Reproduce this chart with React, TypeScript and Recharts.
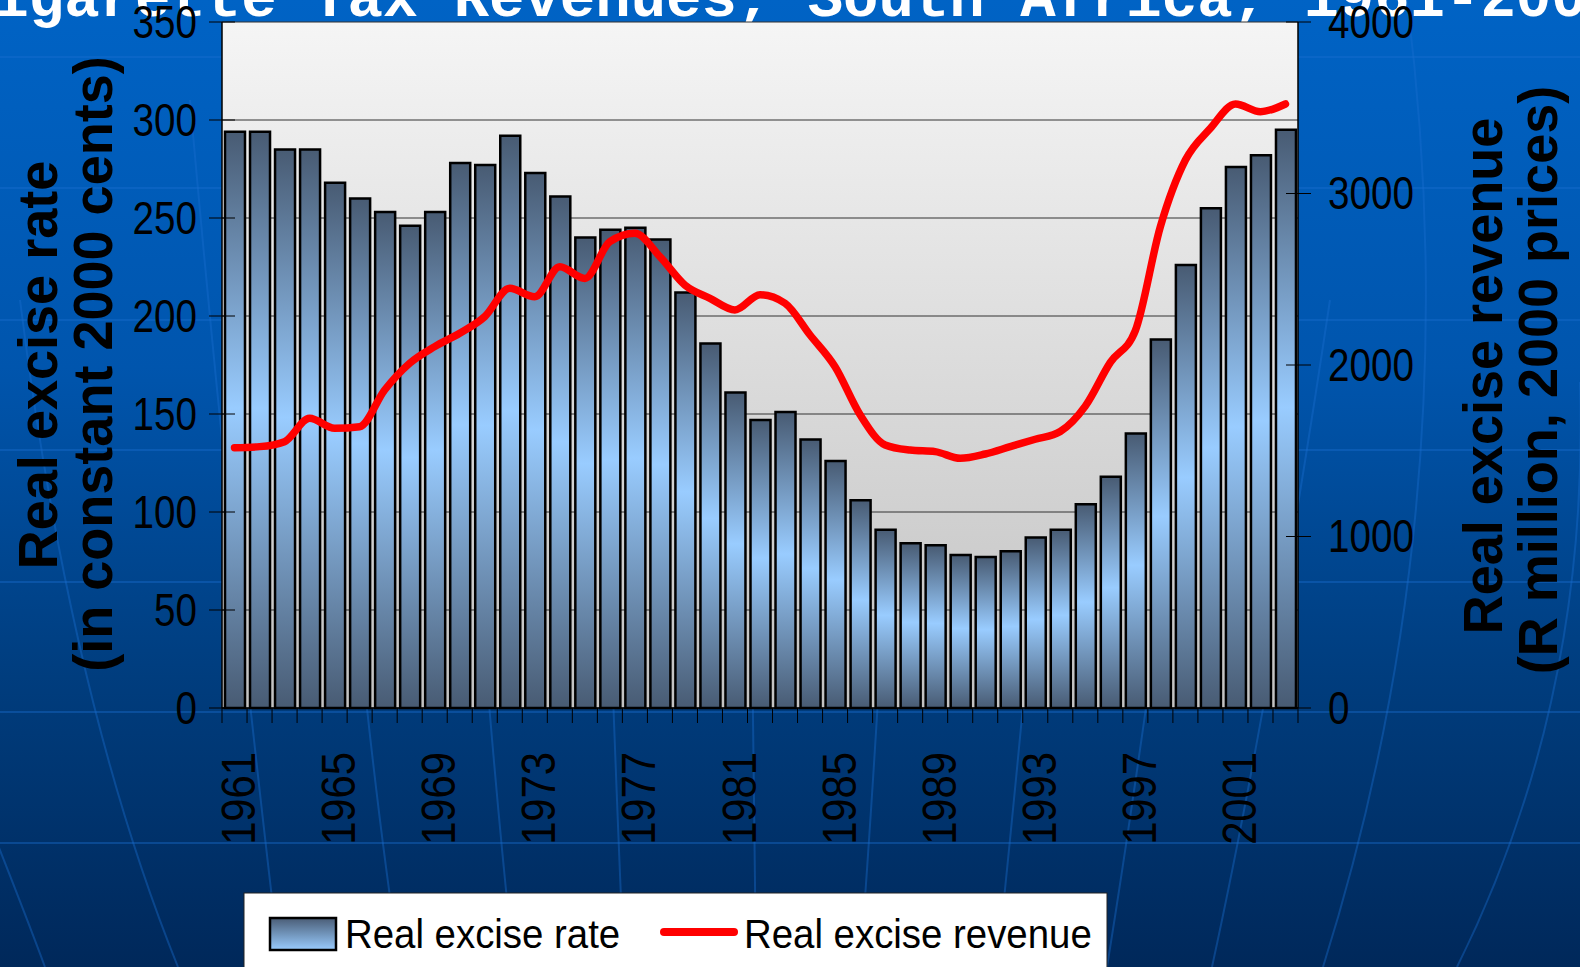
import { Bar, CartesianGrid, ComposedChart, Line, XAxis, YAxis } from "recharts"

const years = [
  1961, 1962, 1963, 1964, 1965, 1966, 1967, 1968, 1969, 1970, 1971, 1972, 1973, 1974, 1975,
  1976, 1977, 1978, 1979, 1980, 1981, 1982, 1983, 1984, 1985, 1986, 1987, 1988, 1989, 1990,
  1991, 1992, 1993, 1994, 1995, 1996, 1997, 1998, 1999, 2000, 2001, 2002, 2003,
]

// real excise rate, constant 2000 cents
const exciseRate = [
  294, 294, 285, 285, 268, 260, 253, 246, 253, 278, 277, 292, 273, 261, 240,
  244, 245, 239, 212, 186, 161, 147, 151, 137, 126, 106, 91, 84, 83, 78,
  77, 80, 87, 91, 104, 118, 140, 188, 226, 255, 276, 282, 295,
]

// real excise revenue, R million (2000 prices)
const exciseRevenue = [
  1518, 1524, 1553, 1689, 1631, 1640, 1854, 2010, 2107, 2185, 2282, 2447, 2398, 2573, 2505,
  2719, 2768, 2632, 2466, 2389, 2321, 2410, 2360, 2175, 1990, 1710, 1534, 1504, 1495, 1456,
  1481, 1524, 1567, 1612, 1760, 2015, 2200, 2807, 3195, 3380, 3522, 3477, 3522,
]

const rateTicks = [0, 50, 100, 150, 200, 250, 300, 350]
const revenueTicks = [0, 1000, 2000, 3000, 4000]

const data = years.map((year, i) => ({
  year,
  rate: exciseRate[i],
  revenue: exciseRevenue[i],
}))

const SANS = "'Liberation Sans', Arial, Helvetica, sans-serif"
const W = 1580
const H = 967

// faint globe lines in the slide background
const globeLines = [
  "M 0 57 L 1580 57",
  "M 0 188 L 1580 188",
  "M 0 320 L 1580 320",
  "M 0 450 L 1580 450",
  "M 0 582 L 1580 582",
  "M 0 712 L 1580 712",
  "M 0 843 L 1580 843",
  "M 20 300 Q 70 700 178 967",
  "M -20 800 Q 20 900 45 967",
  "M 190 100 Q 225 500 280 967",
  "M 330 300 Q 360 700 400 967",
  "M 460 300 Q 485 700 514 967",
  "M 600 300 Q 612 700 624 967",
  "M 748 300 Q 752 700 756 967",
  "M 900 300 Q 880 700 860 967",
  "M 1060 300 Q 1025 700 997 967",
  "M 1200 300 Q 1150 700 1107 967",
  "M 1330 300 Q 1270 700 1212 967",
  "M 1407 0 Q 1470 500 1323 967",
  "M 1580 382 Q 1590 700 1457 967",
]

function YearTick(props: any) {
  const { x, y, index, payload } = props
  const half = 12.5
  return (
    <g>
      <line x1={x - half} y1={y} x2={x - half} y2={y + 15} stroke="#000" strokeWidth={1} />
      {index === years.length - 1 && (
        <line x1={x + half} y1={y} x2={x + half} y2={y + 15} stroke="#000" strokeWidth={1} />
      )}
      {index % 4 === 0 && (
        <text
          transform={`translate(${x + 4},${y + 44}) rotate(-90) scale(0.87,1)`}
          textAnchor="end"
          dominantBaseline="central"
          fontSize={48}
          fontFamily={SANS}
          fill="#000"
        >
          {payload.value}
        </text>
      )}
    </g>
  )
}

function LeftTick(props: any) {
  const { x, y, payload } = props
  return (
    <g>
      <line x1={x - 13} y1={y} x2={x + 13} y2={y} stroke="#000" strokeWidth={1} />
      <text
        transform={`translate(${x - 25},${y}) scale(0.84,1)`}
        textAnchor="end"
        dominantBaseline="central"
        fontSize={46}
        fontFamily={SANS}
        fill="#000"
      >
        {payload.value}
      </text>
    </g>
  )
}

function RightTick(props: any) {
  const { x, y, payload } = props
  return (
    <g>
      <line x1={x - 12} y1={y} x2={x + 13} y2={y} stroke="#000" strokeWidth={1} />
      <text
        transform={`translate(${x + 30},${y}) scale(0.84,1)`}
        textAnchor="start"
        dominantBaseline="central"
        fontSize={46}
        fontFamily={SANS}
        fill="#000"
      >
        {payload.value}
      </text>
    </g>
  )
}

function AxisTitle({ x, y, text }: { x: number; y: number; text: string }) {
  return (
    <text
      transform={`translate(${x},${y}) rotate(-90) scale(0.965,1)`}
      textAnchor="middle"
      fontSize={56}
      fontWeight="bold"
      fontFamily={SANS}
      fill="#000"
    >
      {text}
    </text>
  )
}

function Backdrop() {
  return (
    <svg width={W} height={H} style={{ position: "absolute", left: 0, top: 0 }}>
      <defs>
        <linearGradient id="legendSwatch" x1="0" y1="0" x2="0" y2="1">
          <stop offset="0%" stopColor="#4a5d76" />
          <stop offset="100%" stopColor="#99ccff" />
        </linearGradient>
      </defs>
      {globeLines.map((d, i) => (
        <path key={i} d={d} fill="none" stroke="#1a6fd0" strokeOpacity={0.4} strokeWidth={2} />
      ))}
      <text
        x={790}
        y={16}
        textAnchor="middle"
        fontSize={59}
        fontWeight="bold"
        fontFamily="'Liberation Mono', 'Courier New', monospace"
        fill="#ffffff"
      >
        Cigarette Tax Revenues, South Africa, 1961-2003
      </text>
      <AxisTitle x={57} y={365} text="Real excise rate" />
      <AxisTitle x={112} y={364} text="(in constant 2000 cents)" />
      <AxisTitle x={1502} y={376} text="Real excise revenue" />
      <AxisTitle x={1557} y={380} text="(R million, 2000 prices)" />

      <rect x={244} y={893} width={863} height={100} fill="#ffffff" stroke="#222" strokeWidth={1} />
      <rect x={270} y={918} width={66} height={32} fill="url(#legendSwatch)" stroke="#000" strokeWidth={2.5} />
      <text
        transform="translate(345,948) scale(0.96,1)"
        fontSize={40}
        fontFamily={SANS}
        fill="#000"
      >
        Real excise rate
      </text>
      <line x1={664} y1={932} x2={734} y2={932} stroke="#ff0000" strokeWidth={8} strokeLinecap="round" />
      <text
        transform="translate(744,948) scale(0.96,1)"
        fontSize={40}
        fontFamily={SANS}
        fill="#000"
      >
        Real excise revenue
      </text>
    </svg>
  )
}

export default function App() {
  return (
    <div
      style={{
        position: "fixed",
        left: 0,
        top: 0,
        width: W,
        height: H,
        overflow: "hidden",
        background: "linear-gradient(to bottom, #0063c5 0%, #0055ad 38%, #003d7e 70%, #00285a 100%)",
      }}
    >
      <Backdrop />
      <div style={{ position: "absolute", left: 0, top: 0 }}>
        <ComposedChart width={W} height={H} data={data} margin={{ top: 22, right: 0, left: 0, bottom: 0 }}>
          <defs>
            <linearGradient id="plotBg" x1="0" y1="0" x2="0" y2="1">
              <stop offset="0%" stopColor="#f5f5f5" />
              <stop offset="100%" stopColor="#c2c2c2" />
            </linearGradient>
            <linearGradient id="barFill" x1="0" y1="0" x2="0" y2="1">
              <stop offset="0%" stopColor="#485b73" />
              <stop offset="48%" stopColor="#99ccff" />
              <stop offset="100%" stopColor="#485b73" />
            </linearGradient>
          </defs>
          <CartesianGrid yAxisId="left" vertical={false} stroke="#333" fill="url(#plotBg)" fillOpacity={1} />
          <XAxis
            dataKey="year"
            height={259}
            interval={0}
            tickSize={0}
            tickMargin={0}
            tickLine={false}
            tick={<YearTick />}
            axisLine={{ stroke: "#000", strokeWidth: 1.5 }}
          />
          <YAxis
            yAxisId="left"
            width={222}
            domain={[0, 350]}
            ticks={rateTicks}
            tickSize={0}
            tickMargin={0}
            tickLine={false}
            tick={<LeftTick />}
            axisLine={{ stroke: "#000", strokeWidth: 1.5 }}
          />
          <YAxis
            yAxisId="right"
            orientation="right"
            width={282}
            domain={[0, 4000]}
            ticks={revenueTicks}
            tickSize={0}
            tickMargin={0}
            tickLine={false}
            tick={<RightTick />}
            axisLine={{ stroke: "#000", strokeWidth: 1.5 }}
          />
          <Bar
            yAxisId="left"
            dataKey="rate"
            name="Real excise rate"
            fill="url(#barFill)"
            stroke="#000"
            strokeWidth={2.5}
            barSize={20}
            isAnimationActive={false}
          />
          <Line
            yAxisId="right"
            type="monotone"
            dataKey="revenue"
            name="Real excise revenue"
            stroke="#ff0000"
            strokeWidth={7.5}
            strokeLinecap="round"
            dot={false}
            activeDot={false}
            isAnimationActive={false}
          />
        </ComposedChart>
      </div>
    </div>
  )
}
